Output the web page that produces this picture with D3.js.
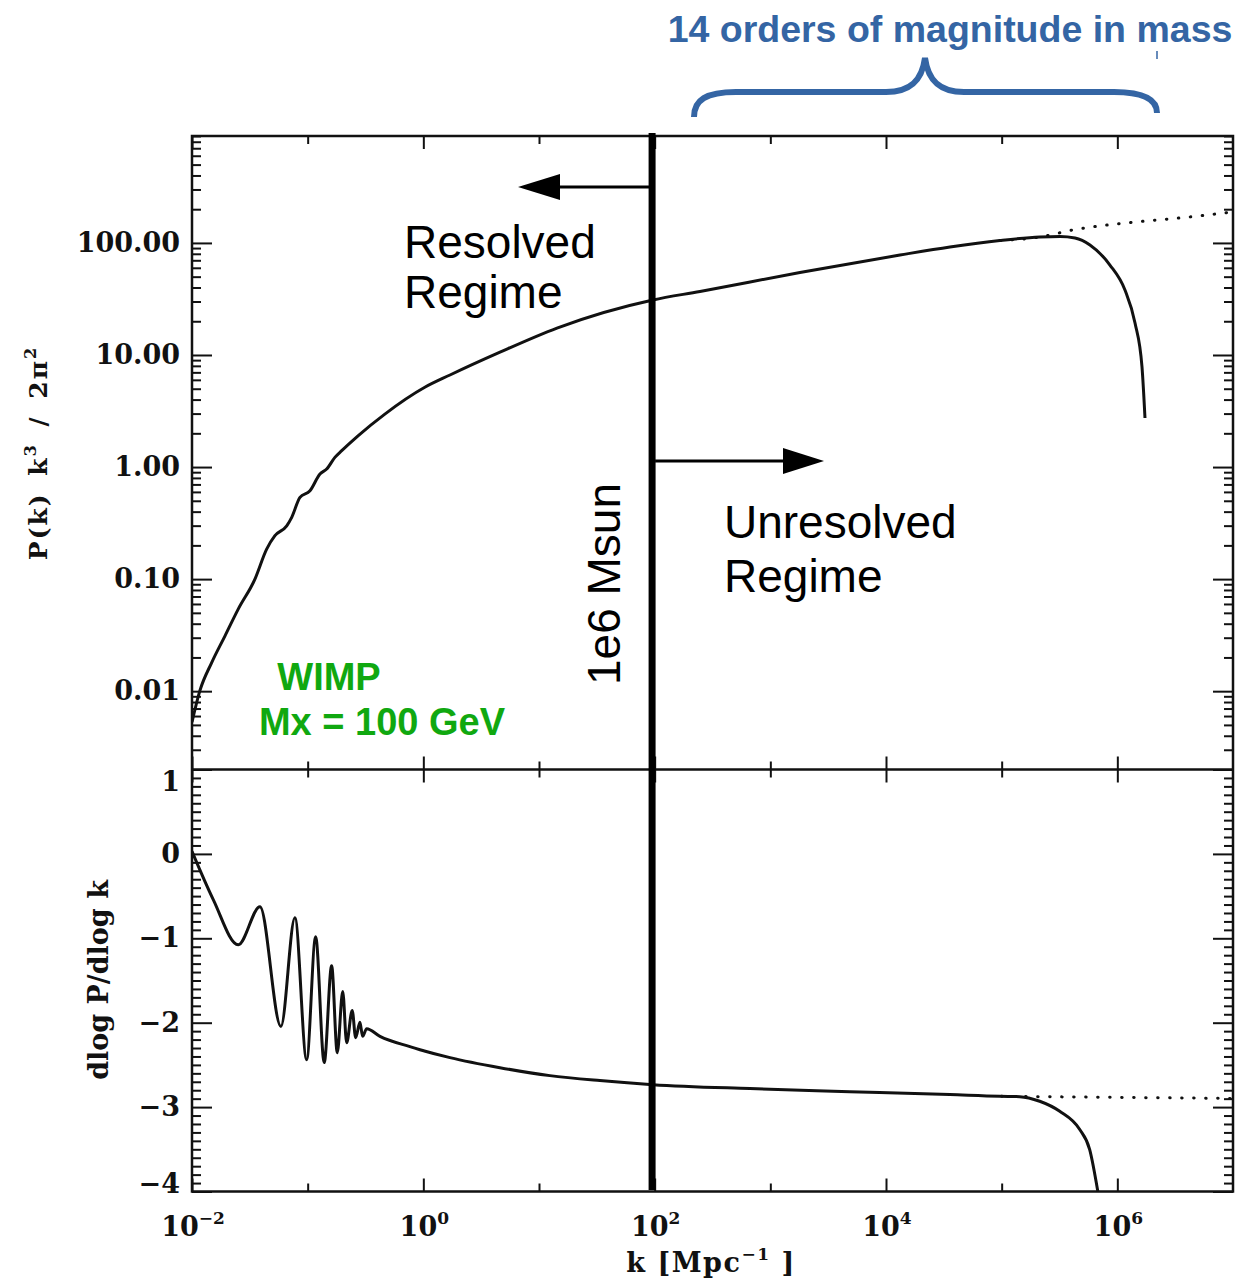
<!DOCTYPE html>
<html>
<head>
<meta charset="utf-8">
<script src="https://cdn.jsdelivr.net/npm/d3@7"></script>
<style>
  body { margin: 0; background: #fff; }
  svg { display: block; }
</style>
</head>
<body>
<div id="chart"></div>
<script>
// top panel: P(k) k^3 / 2pi^2
var kTop = [0.0100, 0.0117, 0.0148, 0.0193, 0.0251, 0.0350, 0.0442, 0.0521, 0.0659, 0.0728, 0.0858, 0.1047,
            0.1277, 0.146, 0.172, 0.197, 0.274, 0.465, 1.03, 1.70, 4.60, 14.3, 96.6, 246.6, 1803, 13210,
            35730, 96600, 214300, 319100, 430400, 579700, 863000, 1.164e6, 1.422e6, 1.634e6, 1.734e6];
var pTop = [0.0053, 0.0101, 0.018, 0.0312, 0.054, 0.100, 0.185, 0.244, 0.299, 0.356, 0.536, 0.614,
            0.866, 0.96, 1.22, 1.40, 1.91, 2.97, 5.15, 6.63, 10.6, 17.4, 31.0, 36.9, 54.5, 78.0,
            92.0, 105.1, 113.0, 114.2, 110.7, 95.9, 63.5, 38.0, 19.3, 7.82, 2.74];
// dotted continuation (no cutoff)
var kTopExt = [96600, 214300, 4.11e5, 1.36e6, 3.67e6, 1e7];
var pTopExt = [105.1, 113.0, 130.5, 152.8, 168, 189];

// bottom panel: dlog P / dlog k
var kBot = [0.0100, 0.0153, 0.0251, 0.0387, 0.0587, 0.0776, 0.0980, 0.1172, 0.1390, 0.1611, 0.1803, 0.2009,
            0.2173, 0.2427, 0.2600, 0.2831, 0.2985, 0.3236, 0.4217, 0.7656, 0.9354, 1.70, 4.592, 12.42, 33.57,
            96.6, 665, 4864, 35560, 96380, 143200, 213300, 317700, 473200, 576800, 677700];
var sBot = [0.03, -0.544, -1.077, -0.627, -2.044, -0.757, -2.438, -0.982, -2.473, -1.325, -2.355, -1.630,
            -2.237, -1.854, -2.178, -1.996, -2.162, -2.071, -2.162, -2.284, -2.320, -2.414, -2.533, -2.627, -2.686,
            -2.734, -2.781, -2.817, -2.852, -2.872, -2.876, -2.931, -3.050, -3.266, -3.503, -3.996];
var kBotExt = [1.0e5, 1e6, 1e7];
var sBotExt = [-2.872, -2.885, -2.897];

// ticks + labels
var xMajor = [1e-2, 1e0, 1e2, 1e4, 1e6];
var xMinor = [1e-1, 1e1, 1e3, 1e5];
var xExpLabels = ["\u22122", "0", "2", "4", "6"];
var yTopMajor = [0.01, 0.1, 1, 10, 100];
var yBotMajor = [-4, -3, -2, -1, 0, 1];

var massK = 95;   // 1e6 Msun resolution line

var W = 1237, H = 1280;
var pLeft = 192, pRight = 1233, pTopY = 136, pMid = 769.5, pBottom = 1191.5;
var serif = "'DejaVu Serif', serif";
var sans = "'Liberation Sans', Arial, sans-serif";

var svg = d3.select("#chart").append("svg")
    .attr("width", W)
    .attr("height", H);

var x = d3.scaleLog().domain([1e-2, 1e7]).range([pLeft, pRight]);
var yTop = d3.scaleLog().domain([0.002, 900]).range([pMid, pTopY]);
var yBot = d3.scaleLinear().domain([-4, 1]).range([pBottom, pMid]);

// minor ticks
var yTopMinor = [];
[0.001, 0.01, 0.1, 1, 10, 100].forEach(function(d) {
  for (var m = 2; m <= 9; m++) {
    var v = d * m;
    if (v >= 0.002 && v <= 900) yTopMinor.push(v);
  }
});
var yBotMinor = [];
for (var i = -40; i <= 10; i++) { if (i % 10 != 0) yBotMinor.push(i / 10); }

var defs = svg.append("defs");
defs.append("clipPath").attr("id", "clipTop")
  .append("rect").attr("x", pLeft).attr("y", pTopY).attr("width", pRight - pLeft).attr("height", pMid - pTopY);
defs.append("clipPath").attr("id", "clipBot")
  .append("rect").attr("x", pLeft).attr("y", pMid).attr("width", pRight - pLeft).attr("height", pBottom - pMid);

function ticks(axis, tx, ty, values, size) {
  var g = svg.append("g")
    .attr("transform", "translate(" + tx + "," + ty + ")")
    .call(axis.tickValues(values).tickSize(size).tickFormat(""));
  g.select(".domain").remove();
  g.selectAll(".tick line").attr("stroke", "#111").attr("stroke-width", 2);
  return g;
}

// x ticks on every horizontal edge
[[d3.axisTop, pTopY], [d3.axisBottom, pMid], [d3.axisTop, pMid], [d3.axisBottom, pBottom]].forEach(function(a) {
  ticks(a[0](x), 0, a[1], xMajor, -13);
  ticks(a[0](x), 0, a[1], xMinor, -8);
});

// y ticks, both sides
ticks(d3.axisLeft(yTop), pLeft, 0, yTopMajor, -20);
ticks(d3.axisLeft(yTop), pLeft, 0, yTopMinor, -9);
ticks(d3.axisRight(yTop), pRight, 0, yTopMajor, -20);
ticks(d3.axisRight(yTop), pRight, 0, yTopMinor, -9);
ticks(d3.axisLeft(yBot), pLeft, 0, yBotMajor, -20);
ticks(d3.axisLeft(yBot), pLeft, 0, yBotMinor, -9);
ticks(d3.axisRight(yBot), pRight, 0, yBotMajor, -20);
ticks(d3.axisRight(yBot), pRight, 0, yBotMinor, -9);

// tick labels
var gyT = svg.append("g").attr("transform", "translate(" + pLeft + ",0)")
  .call(d3.axisLeft(yTop).tickValues(yTopMajor).tickSize(0).tickPadding(12).tickFormat(d3.format(".2f")));
var gyB = svg.append("g").attr("transform", "translate(" + pLeft + ",0)")
  .call(d3.axisLeft(yBot).tickValues(yBotMajor).tickSize(0).tickPadding(12).tickFormat(d3.format("d")));
[gyT, gyB].forEach(function(g) {
  g.select(".domain").remove();
  g.selectAll("text").attr("font-family", serif).attr("font-weight", "bold")
    .attr("font-size", 27).attr("fill", "#111");
});
// IDL pushes the end labels inside the panel
gyB.selectAll(".tick").filter(function(d) { return d == 1; }).select("text").attr("y", 12);
gyB.selectAll(".tick").filter(function(d) { return d == -4; }).select("text").attr("y", -8);

xMajor.forEach(function(v, i) {
  var t = svg.append("text")
    .attr("x", x(v) + 1)
    .attr("y", 1236)
    .attr("text-anchor", "middle")
    .attr("font-family", serif).attr("font-weight", "bold")
    .attr("font-size", 27).attr("fill", "#111");
  t.append("tspan").text("10");
  t.append("tspan").attr("dy", -12).attr("font-size", 17).text(xExpLabels[i]);
});

// axis titles
var xt = svg.append("text")
  .attr("x", 711).attr("y", 1272)
  .attr("text-anchor", "middle")
  .attr("font-family", serif).attr("font-weight", "bold")
  .attr("font-size", 27).attr("letter-spacing", 1.5).attr("fill", "#111");
xt.append("tspan").text("k [Mpc");
xt.append("tspan").attr("dy", -12).attr("font-size", 17).text("\u22121");
xt.append("tspan").attr("dy", 12).text("  ]");

var ytT = svg.append("text")
  .attr("transform", "translate(47,453) rotate(-90)")
  .attr("text-anchor", "middle")
  .attr("font-family", serif).attr("font-weight", "bold")
  .attr("font-size", 25).attr("letter-spacing", 2).attr("word-spacing", 6).attr("fill", "#111");
ytT.append("tspan").text("P(k) k");
ytT.append("tspan").attr("dy", -11).attr("font-size", 16).text("3");
ytT.append("tspan").attr("dy", 11).text(" / 2\u03c0");
ytT.append("tspan").attr("dy", -11).attr("font-size", 16).text("2");

svg.append("text")
  .attr("transform", "translate(108,980) rotate(-90)")
  .attr("text-anchor", "middle")
  .attr("font-family", serif).attr("font-weight", "bold")
  .attr("font-size", 27).attr("fill", "#111")
  .text("dlog P/dlog k");

// frame
svg.append("rect")
  .attr("x", pLeft).attr("y", pTopY)
  .attr("width", pRight - pLeft).attr("height", pBottom - pTopY)
  .attr("fill", "none").attr("stroke", "#111").attr("stroke-width", 2.5);
svg.append("line")
  .attr("x1", pLeft).attr("x2", pRight).attr("y1", pMid).attr("y2", pMid)
  .attr("stroke", "#111").attr("stroke-width", 2.5);

// curves
var lineTop = d3.line().x(function(d) { return x(d[0]); }).y(function(d) { return yTop(d[1]); }).curve(d3.curveMonotoneX);
var lineBot = d3.line().x(function(d) { return x(d[0]); }).y(function(d) { return yBot(d[1]); }).curve(d3.curveMonotoneX);

svg.append("path")
  .datum(d3.zip(kTopExt, pTopExt))
  .attr("clip-path", "url(#clipTop)")
  .attr("d", lineTop)
  .attr("fill", "none").attr("stroke", "#111").attr("stroke-width", 3)
  .attr("stroke-dasharray", "0.5,11.5").attr("stroke-linecap", "round");
svg.append("path")
  .datum(d3.zip(kTop, pTop))
  .attr("clip-path", "url(#clipTop)")
  .attr("d", lineTop)
  .attr("fill", "none").attr("stroke", "#111").attr("stroke-width", 3);

svg.append("path")
  .datum(d3.zip(kBotExt, sBotExt))
  .attr("clip-path", "url(#clipBot)")
  .attr("d", lineBot)
  .attr("fill", "none").attr("stroke", "#111").attr("stroke-width", 3)
  .attr("stroke-dasharray", "0.5,11.5").attr("stroke-linecap", "round");
svg.append("path")
  .datum(d3.zip(kBot, sBot))
  .attr("clip-path", "url(#clipBot)")
  .attr("d", lineBot)
  .attr("fill", "none").attr("stroke", "#111").attr("stroke-width", 3);

// ---- annotations ----
var xm = x(massK);
svg.append("line")
  .attr("x1", xm).attr("x2", xm).attr("y1", 133).attr("y2", 1190)
  .attr("stroke", "#000").attr("stroke-width", 7);

// arrows
function arrow(x0, x1, y, head, half) {
  var dir = x1 < x0 ? 1 : -1;
  svg.append("line")
    .attr("x1", x0).attr("x2", x1 + dir * head).attr("y1", y).attr("y2", y)
    .attr("stroke", "#000").attr("stroke-width", 3);
  svg.append("path")
    .attr("d", "M" + x1 + "," + y + "L" + (x1 + dir * head) + "," + (y - half) + "L" + (x1 + dir * head) + "," + (y + half) + "Z")
    .attr("fill", "#000");
}
arrow(xm, 518, 187, 42, 13);
arrow(xm + 3, 824, 461, 41, 13);

function twoLines(x0, y0, lines, gap) {
  var t = svg.append("text")
    .attr("x", x0).attr("y", y0)
    .attr("font-family", sans).attr("font-size", 46).attr("fill", "#000");
  lines.forEach(function(s, i) {
    t.append("tspan").attr("x", x0).attr("dy", i ? gap : 0).text(s);
  });
}
twoLines(404, 258, ["Resolved", "Regime"], 50);
twoLines(724, 538, ["Unresolved", "Regime"], 54);

svg.append("text")
  .attr("transform", "translate(620,584) rotate(-90)")
  .attr("text-anchor", "middle")
  .attr("font-family", sans).attr("font-size", 46).attr("fill", "#000")
  .text("1e6 Msun");

// WIMP label
var green = "#10a810";
svg.append("text")
  .attr("x", 329).attr("y", 690).attr("text-anchor", "middle")
  .attr("font-family", sans).attr("font-weight", "bold").attr("font-size", 38).attr("fill", green)
  .text("WIMP");
svg.append("text")
  .attr("x", 382).attr("y", 735).attr("text-anchor", "middle")
  .attr("font-family", sans).attr("font-weight", "bold").attr("font-size", 38).attr("fill", green)
  .text("Mx = 100 GeV");

// blue brace + title
var blue = "#3465a4";
svg.append("text")
  .attr("x", 950).attr("y", 42).attr("text-anchor", "middle")
  .attr("font-family", sans).attr("font-weight", "bold").attr("font-size", 37.5).attr("fill", blue)
  .text("14 orders of magnitude in mass");
svg.append("path")
  .attr("d", "M694,117 C694,100 706,92 736,92 L886,92 C911,92 922,80 925,58 C928,80 939,92 964,92 L1114,92 C1144,92 1157,100 1157,113")
  .attr("fill", "none").attr("stroke", blue).attr("stroke-width", 6);
svg.append("line")
  .attr("x1", 1157).attr("x2", 1157).attr("y1", 51).attr("y2", 59)
  .attr("stroke", blue).attr("stroke-width", 1.5);
</script>
</body>
</html>
